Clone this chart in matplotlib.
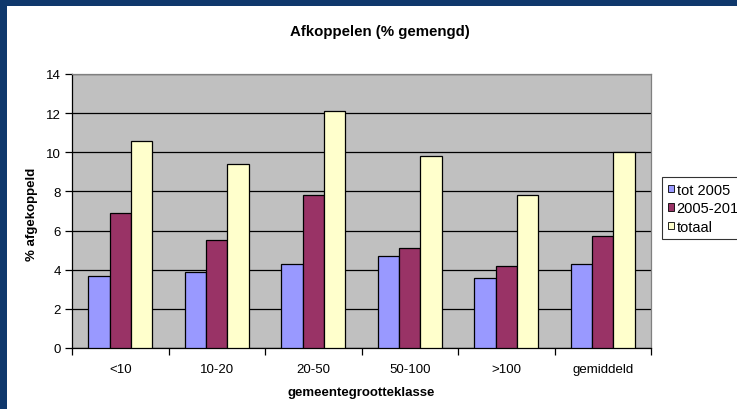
import matplotlib
matplotlib.use("Agg")
import matplotlib.pyplot as plt
from matplotlib.patches import Rectangle
import numpy as np

categories = ["<10", "10-20", "20-50", "50-100", ">100", "gemiddeld"]
tot_2005 = [3.7, 3.9, 4.3, 4.7, 3.6, 4.3]
p2005_2010 = [6.9, 5.5, 7.8, 5.1, 4.2, 5.7]
totaal = [10.6, 9.4, 12.1, 9.8, 7.8, 10.0]
series_names = ["tot 2005", "2005-2010", "totaal"]
y_ticks = [0, 2, 4, 6, 8, 10, 12, 14]

plt.rcParams['font.family'] = ['Liberation Sans', 'DejaVu Sans']

W, H = 737, 410
fig = plt.figure(figsize=(W / 100, H / 100), dpi=100, facecolor="#0f386c")

# white chart area
fig.patches.append(Rectangle((7 / W, 0), 1 - 7 / W, 1 - 7 / H, transform=fig.transFigure,
                             facecolor="white", edgecolor="none", zorder=-10))

ax = fig.add_axes([72 / W, (H - 349) / H, (651 - 72) / W, (349 - 75) / H])
ax.set_facecolor("#C0C0C0")

x = np.arange(len(categories))
w = 1 / 4.5
colors = ["#9999FF", "#993366", "#FFFFCC"]
data = [tot_2005, p2005_2010, totaal]
for i, (vals, c, name) in enumerate(zip(data, colors, series_names)):
    ax.bar(x + (i - 1) * w, vals, width=w, color=c, edgecolor="black", linewidth=0.9,
           label=name, zorder=3)

ax.set_xlim(-0.5, len(categories) - 0.5)
ax.set_ylim(0, 14)
ax.set_yticks(y_ticks)
ax.yaxis.grid(True, color="black", linewidth=0.9, zorder=1)
ax.set_axisbelow(True)

ax.set_xticks(x)
ax.set_xticklabels(categories)
ax.set_xticks(np.arange(len(categories) + 1) - 0.5, minor=True)
ax.tick_params(axis="x", which="major", length=0, pad=11, labelsize=9.5)
ax.tick_params(axis="x", which="minor", length=5, direction="out", width=0.9)
ax.tick_params(axis="y", length=5, direction="out", width=0.9, labelsize=9.5, pad=3)

for s in ["top", "right"]:
    ax.spines[s].set_color("#808080")
    ax.spines[s].set_linewidth(0.9)
for s in ["left", "bottom"]:
    ax.spines[s].set_color("black")
    ax.spines[s].set_linewidth(0.9)

fig.text(380 / W, 1 - 32 / H, "Afkoppelen (% gemengd)", ha="center", va="center",
         fontsize=10.8, fontweight="bold")
fig.text(361 / W, 1 - 393 / H, "gemeentegrootteklasse", ha="center", va="center",
         fontsize=9.5, fontweight="bold")
fig.text(32 / W, 1 - 214 / H, "% afgekoppeld", ha="center", va="center", rotation=90,
         fontsize=9.5, fontweight="bold")

leg = fig.legend(loc="upper left", bbox_to_anchor=(662 / W, 1 - 178 / H),
                 bbox_transform=fig.transFigure, fontsize=10.5, frameon=True,
                 fancybox=False, handlelength=0.4, handleheight=0.4, handletextpad=0.2,
                 borderpad=0.4, borderaxespad=0, labelspacing=0.3)
leg.get_frame().set_edgecolor("black")
leg.get_frame().set_linewidth(0.8)
for p in leg.get_patches():
    p.set_linewidth(0.6)

fig.savefig("out.png", dpi=100, facecolor=fig.get_facecolor())
